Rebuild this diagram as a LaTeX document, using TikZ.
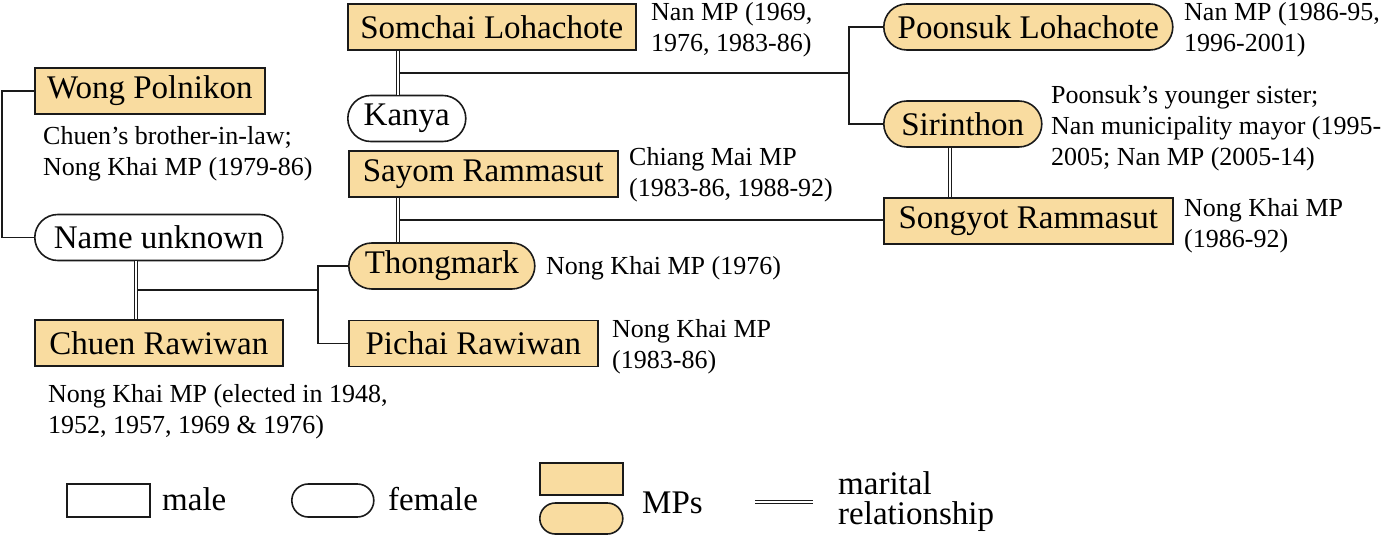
\documentclass[tikz,border=0pt]{standalone}
\usepackage{fontspec}
\setmainfont{Liberation Serif}
\usetikzlibrary{positioning}
\definecolor{mpfill}{HTML}{F9DCA0}
\definecolor{lineink}{HTML}{1A1A1A}

\begin{document}
\begin{tikzpicture}[
  x=1pt, y=-1pt,
  font=\fontsize{33}{38}\selectfont,
  person/.style={draw=lineink, line width=1.6pt, inner sep=0pt, minimum height=46pt, anchor=west},
  male/.style={person},
  female/.style={person, rounded corners=23pt},
  mp/.style={fill=mpfill},
  note/.style={font=\fontsize{26}{31}\selectfont, align=left, inner sep=0pt, anchor=north west},
  key/.style={font=\fontsize{33}{30}\selectfont, inner sep=0pt},
  link/.style={draw=lineink, line width=1.6pt},
  marr/.style={draw=lineink, line width=1.2pt, double=white, double distance=2.2pt}
]
\useasboundingbox (0,0) rectangle (1400,540);

\node[male, mp, minimum width=230pt] (wong) at (34,91) {Wong Polnikon};
\node[female, minimum width=248pt] (unk) at (34,237.5) {Name unknown};
\node[male, mp, minimum width=248pt] (chuen) at (34,343) {Chuen Rawiwan};
\node[male, mp, minimum width=288pt] (somchai) at (347,27) {Somchai Lohachote};
\node[female, minimum width=118pt] (kanya) at (347,118.5) {Kanya};
\node[male, mp, minimum width=269pt] (sayom) at (348,174) {Sayom Rammasut};
\node[female, mp, minimum width=186pt] (thong) at (348,266) {Thongmark};
\node[male, mp, minimum width=249pt] (pichai) at (348,343.5) {Pichai Rawiwan};
\node[female, mp, minimum width=289pt] (poonsuk) at (883,27) {Poonsuk Lohachote};
\node[female, mp, minimum width=158pt] (sirin) at (883,124) {Sirinthon};
\node[male, mp, minimum width=289pt] (songyot) at (883,221) {Songyot Rammasut};

% couples: double line, children hang off its middle
\draw[marr] ([xshift=-23pt]unk.south) -- coordinate (m1) ([xshift=-23pt]chuen.north);
\draw[marr] ([xshift=-9pt]kanya.north) -- coordinate (m2) ([xshift=-9pt]kanya.north |- somchai.south);
\draw[marr] ([xshift=-44pt]thong.north) -- coordinate (m3) ([xshift=-44pt]thong.north |- sayom.south);
\draw[marr] ([xshift=-13pt]sirin.south) -- ([xshift=-13pt]sirin.south |- songyot.north);

\draw[link] (wong.west) -- ++(-32,0) |- (unk.west);
\draw[link] ([xshift=2.3pt]m1) -- ++(180,0) coordinate (b1);
\draw[link] (thong.west) -| (b1) |- (pichai.west);
\draw[link] ([xshift=2.3pt]m2) -- ++(449,0) coordinate (b2);
\draw[link] (poonsuk.west) -| (b2) |- (sirin.west);
\draw[link] ([xshift=2.3pt]m3) -- (m3 -| songyot.west);

\node[note] (nsomchai) at (651,2) {Nan MP (1969,\\1976, 1983-86)};
\node[note] (npoonsuk) at (1184,2) {Nan MP (1986-95,\\1996-2001)};
\node[note] (nwong) at (43,126) {Chuen’s brother-in-law;\\Nong Khai MP (1979-86)};
\node[note] (nsirin) at (1051,85) {Poonsuk’s younger sister;\\Nan municipality mayor (1995-\\2005; Nan MP (2005-14)};
\node[note] (nsayom) at (629,147) {Chiang Mai MP\\(1983-86, 1988-92)};
\node[note] (nsongyot) at (1184,198) {Nong Khai MP\\(1986-92)};
\node[note] (nthong) at (546,256) {Nong Khai MP (1976)};
\node[note] (npichai) at (612,319) {Nong Khai MP\\(1983-86)};
\node[note] (nchuen) at (48,384) {Nong Khai MP (elected in 1948,\\1952, 1957, 1969 \& 1976)};

% legend
\node[male, minimum width=83pt, minimum height=33pt] (kmale) at (66,500.5) {};
\node[key, anchor=base west] (tmale) at (162,510) {male};
\node[female, minimum width=82pt, minimum height=33pt, rounded corners=16.5pt] (kfemale) at (291,500.5) {};
\node[key, anchor=base west] (tfemale) at (388,510) {female};
\node[male, mp, minimum width=83pt, minimum height=32pt] (kmpm) at (539,479) {};
\node[female, mp, minimum width=83pt, minimum height=31pt, rounded corners=15.5pt] (kmpf) at (539,518.5) {};
\node[key, anchor=base west] (tmp) at (642,513) {MPs};
\coordinate (ka) at (755,502);
\coordinate (kb) at (813,502);
\draw[marr] (ka) -- (kb);
\node[key, anchor=north west, align=left] (tmarr) at (838,471) {marital\\relationship};
\end{tikzpicture}
\end{document}
